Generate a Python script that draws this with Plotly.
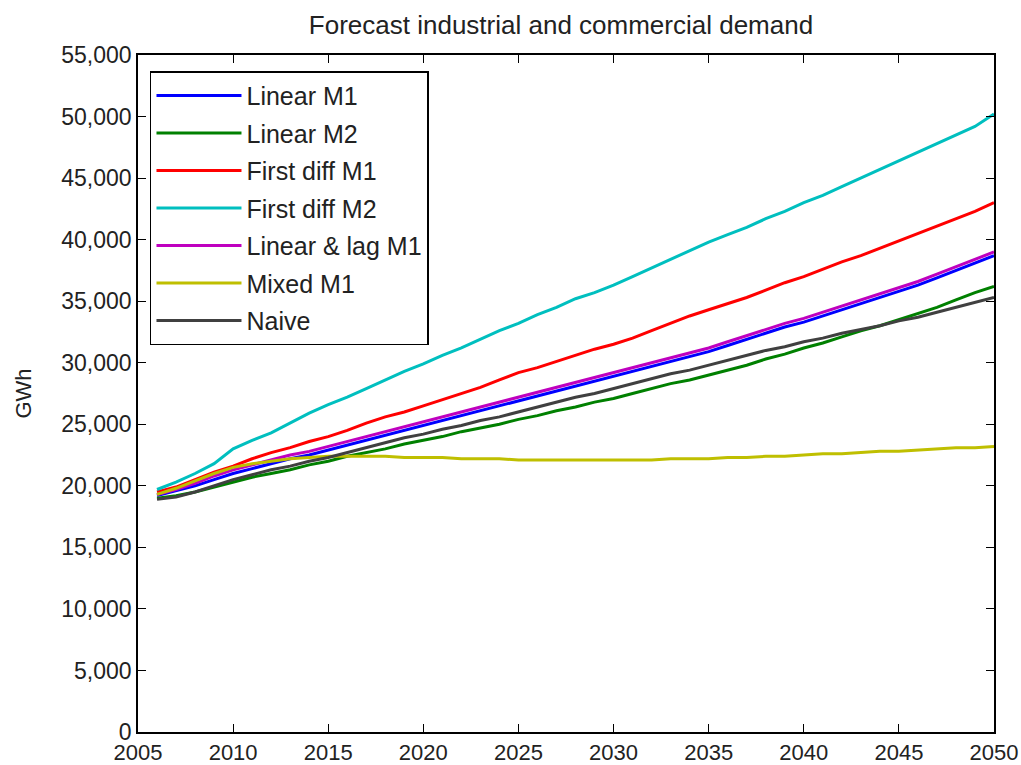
import plotly.graph_objects as go

years = list(range(2006, 2051))

linear_m1 = [19200, 19600, 20000, 20500, 21000, 21400, 21800, 22200, 22500, 22900,
             23300, 23700, 24100, 24500, 24900, 25300, 25700, 26100, 26500, 26900,
             27300, 27700, 28100, 28500, 28900, 29300, 29700, 30100, 30500, 30900,
             31400, 31900, 32400, 32900, 33300, 33800, 34300, 34800, 35300, 35800,
             36300, 36900, 37500, 38100, 38700]
linear_m2 = [19000, 19200, 19500, 19900, 20300, 20700, 21000, 21300, 21700, 22000,
             22400, 22700, 23000, 23400, 23700, 24000, 24400, 24700, 25000, 25400,
             25700, 26100, 26400, 26800, 27100, 27500, 27900, 28300, 28600, 29000,
             29400, 29800, 30300, 30700, 31200, 31600, 32100, 32600, 33000, 33500,
             34000, 34500, 35100, 35700, 36200]
first_diff_m1 = [19500, 19900, 20500, 21100, 21600, 22200, 22700, 23100, 23600, 24000,
                 24500, 25100, 25600, 26000, 26500, 27000, 27500, 28000, 28600, 29200,
                 29600, 30100, 30600, 31100, 31500, 32000, 32600, 33200, 33800, 34300,
                 34800, 35300, 35900, 36500, 37000, 37600, 38200, 38700, 39300, 39900,
                 40500, 41100, 41700, 42300, 43000]
first_diff_m2 = [19700, 20300, 21000, 21800, 23000, 23700, 24300, 25100, 25900, 26600,
                 27200, 27900, 28600, 29300, 29900, 30600, 31200, 31900, 32600, 33200,
                 33900, 34500, 35200, 35700, 36300, 37000, 37700, 38400, 39100, 39800,
                 40400, 41000, 41700, 42300, 43000, 43600, 44300, 45000, 45700, 46400,
                 47100, 47800, 48500, 49200, 50200]
linear_lag_m1 = [19300, 19700, 20200, 20800, 21300, 21700, 22100, 22500, 22800, 23200,
                 23600, 24000, 24400, 24800, 25200, 25600, 26000, 26400, 26800, 27200,
                 27600, 28000, 28400, 28800, 29200, 29600, 30000, 30400, 30800, 31200,
                 31700, 32200, 32700, 33200, 33600, 34100, 34600, 35100, 35600, 36100,
                 36600, 37200, 37800, 38400, 39000]
mixed_m1 = [19300, 19800, 20400, 21000, 21500, 21800, 22000, 22200, 22300, 22400,
            22400, 22400, 22400, 22300, 22300, 22300, 22200, 22200, 22200, 22100,
            22100, 22100, 22100, 22100, 22100, 22100, 22100, 22200, 22200, 22200,
            22300, 22300, 22400, 22400, 22500, 22600, 22600, 22700, 22800, 22800,
            22900, 23000, 23100, 23100, 23200]
naive = [18900, 19100, 19500, 20000, 20500, 20900, 21300, 21600, 22000, 22300,
         22700, 23100, 23500, 23900, 24200, 24600, 24900, 25300, 25600, 26000,
         26400, 26800, 27200, 27500, 27900, 28300, 28700, 29100, 29400, 29800,
         30200, 30600, 31000, 31300, 31700, 32000, 32400, 32700, 33000, 33400,
         33700, 34100, 34500, 34900, 35300]

series_names = ["Linear M1", "Linear M2", "First diff M1", "First diff M2",
                "Linear & lag M1", "Mixed M1", "Naive"]
series_values = [linear_m1, linear_m2, first_diff_m1, first_diff_m2,
                 linear_lag_m1, mixed_m1, naive]
colors = ["#0000FF", "#008000", "#FF0000", "#00BFBF", "#BF00BF", "#BFBF00", "#404040"]

x_ticks = list(range(2005, 2051, 5))
y_ticks = list(range(0, 55001, 5000))
y_tick_labels = [f"{v:,}" for v in y_ticks]

FONT = "Liberation Sans, Arial, sans-serif"
TXT = "#222222"

fig = go.Figure()
for i, (name, vals, col) in enumerate(zip(series_names, series_values, colors)):
    fig.add_trace(go.Scatter(x=years, y=vals, mode="lines", name=name,
                             legendgroup=f"g{i}",
                             line=dict(color=col, width=3)))

axis_common = dict(showline=True, linecolor="black", linewidth=1.5, mirror="ticks",
                   ticks="inside", ticklen=8, tickcolor="black", showgrid=False,
                   zeroline=False, automargin=False, ticklabeloverflow="allow")

fig.update_layout(
    width=1021, height=765,
    margin=dict(l=138, r=27, t=55, b=33, autoexpand=False),
    paper_bgcolor="white", plot_bgcolor="white",
    title=dict(text="Forecast industrial and commercial demand", x=561 / 1021, xanchor="center",
               y=1 - 25 / 765, yanchor="middle", automargin=False,
               font=dict(family=FONT, size=26, color=TXT)),
    xaxis=dict(range=[2005, 2050], tickvals=x_ticks, ticklabelstandoff=0,
               tickfont=dict(family=FONT, size=22, color=TXT), **axis_common),
    yaxis=dict(range=[0, 55000], tickvals=y_ticks, ticktext=y_tick_labels,
               tickfont=dict(family=FONT, size=23, color=TXT),
               title=dict(text="GWh", font=dict(family=FONT, size=22, color=TXT), standoff=24),
               **axis_common),
    legend=dict(x=0.014, y=0.976, xanchor="left", yanchor="top",
                bgcolor="white", bordercolor="black", borderwidth=1.5,
                font=dict(family=FONT, size=25, color=TXT),
                tracegroupgap=2, itemwidth=85),
    showlegend=True,
)

fig.write_html("out.html", config={"displayModeBar": False},
               post_script="document.body.style.margin='0';")
